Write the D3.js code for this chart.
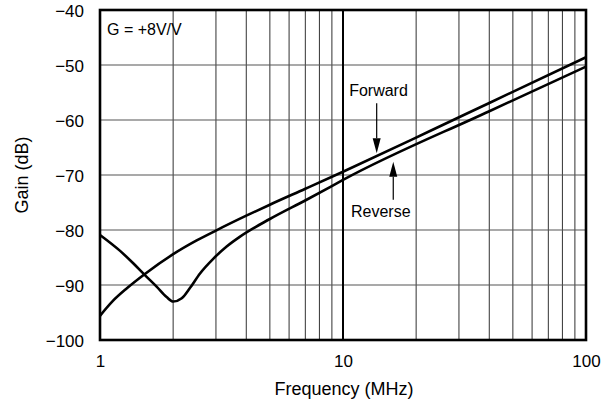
<!DOCTYPE html>
<html>
<head>
<meta charset="utf-8">
<script src="https://cdn.jsdelivr.net/npm/d3@7"></script>
<style>
  html, body { margin: 0; padding: 0; background: #fff; }
  svg { display: block; font-family: "Liberation Sans", Arial, sans-serif; }
</style>
</head>
<body>
<svg id="chart" width="610" height="409"></svg>
<script>
// ---- data ----
const forwardFreq = [1, 1.13, 1.29, 1.53, 2, 2.5, 3, 4, 5, 7, 10, 22.8, 40, 100];
const forwardGain = [-95.6, -92.9, -90.6, -88.0, -84.4, -81.9, -80.1, -77.4, -75.4, -72.5, -69.4, -62.0, -56.9, -48.6];

const reverseFreq = [1, 1.21, 1.37, 1.53, 1.71, 1.88, 2.0, 2.17, 2.34, 2.58, 2.93, 3.32, 3.77, 5, 7.08, 8.84, 10, 40, 100];
const reverseGain = [-80.9, -83.8, -86.05, -88.2, -90.3, -92.2, -93.0, -92.4, -90.6, -87.9, -85.2, -83.0, -81.2, -78.0, -74.5, -72.2, -70.9, -58.4, -50.3];

const xTickValues = [1, 10, 100];
const xTickLabels = ["1", "10", "100"];
const yTickValues = [-40, -50, -60, -70, -80, -90, -100];
const yTickLabels = ["\u221240", "\u221250", "\u221260", "\u221270", "\u221280", "\u221290", "\u2212100"];
const xGridValues = [2, 3, 4, 5, 6, 7, 8, 9, 20, 30, 40, 50, 60, 70, 80, 90];
const yGridValues = [-50, -60, -70, -80, -90];

const annotations = [
  { text: "Forward", textF: 14.0, textG: -55.6, arrowF: 13.76, fromG: -56.96, toG: -66.06 },
  { text: "Reverse", textF: 14.3, textG: -77.6, arrowF: 16.1, fromG: -74.5, toG: -67.6 }
];
const gainNote = "G = +8V/V";
const xTitle = "Frequency (MHz)";
const yTitle = "Gain (dB)";

// ---- layout ----
const L = 100, R = 586, T = 10, B = 340;
const svg = d3.select("#chart");
const x = d3.scaleLog().domain([1, 100]).range([L, R]);
const y = d3.scaleLinear().domain([-100, -40]).range([B, T]);

// grid
const g = svg.append("g");
g.selectAll("line.vg").data(xGridValues).enter().append("line")
  .attr("x1", d => x(d)).attr("x2", d => x(d)).attr("y1", T).attr("y2", B)
  .attr("stroke", "#444").attr("stroke-width", 1.1);
g.selectAll("line.hg").data(yGridValues).enter().append("line")
  .attr("x1", L).attr("x2", R).attr("y1", d => y(d)).attr("y2", d => y(d))
  .attr("stroke", "#555").attr("stroke-width", 1.2);
// 10 MHz line
g.append("line").attr("x1", x(10)).attr("x2", x(10)).attr("y1", T).attr("y2", B)
  .attr("stroke", "#000").attr("stroke-width", 2);

// curves
const line = d3.line().x(d => x(d[0])).y(d => y(d[1])).curve(d3.curveMonotoneX);
const fwd = forwardFreq.map((f, i) => [f, forwardGain[i]]);
const rev = reverseFreq.map((f, i) => [f, reverseGain[i]]);
[fwd, rev].forEach(data => {
  svg.append("path").datum(data).attr("d", line)
    .attr("fill", "none").attr("stroke", "#000").attr("stroke-width", 2.6)
    .attr("stroke-linejoin", "round");
});

// frame
svg.append("rect").attr("x", L).attr("y", T).attr("width", R - L).attr("height", B - T)
  .attr("fill", "none").attr("stroke", "#000").attr("stroke-width", 2.6);

// axes labels
const yAxis = d3.axisLeft(y).tickValues(yTickValues).tickSize(0).tickPadding(16)
  .tickFormat((d, i) => yTickLabels[i]);
const ya = svg.append("g").attr("transform", `translate(${L},0)`).call(yAxis);
ya.select(".domain").remove();
ya.selectAll("text").attr("font-size", 17).attr("fill", "#000")
  .attr("font-family", "Liberation Sans, Arial, sans-serif").attr("dy", "0.4em");

const xAxis = d3.axisBottom(x).tickValues(xTickValues).tickSize(0).tickPadding(15)
  .tickFormat((d, i) => xTickLabels[i]);
const xa = svg.append("g").attr("transform", `translate(0,${B})`).call(xAxis);
xa.select(".domain").remove();
xa.selectAll("text").attr("font-size", 17).attr("fill", "#000")
  .attr("font-family", "Liberation Sans, Arial, sans-serif").attr("dy", "0.71em");

svg.append("text").attr("x", 344).attr("y", 395).attr("text-anchor", "middle")
  .attr("font-size", 18).attr("fill", "#000").text(xTitle);
svg.append("text").attr("transform", `translate(28,${(T + B) / 2}) rotate(-90)`)
  .attr("text-anchor", "middle").attr("font-size", 18).attr("fill", "#000").text(yTitle);

svg.append("text").attr("x", 107).attr("y", 35).attr("font-size", 16).attr("fill", "#000").text(gainNote);

// annotations
annotations.forEach(a => {
  svg.append("text").attr("x", x(a.textF)).attr("y", y(a.textG)).attr("text-anchor", "middle")
    .attr("font-size", 16).attr("fill", "#000").text(a.text);
  const ax = x(a.arrowF), y0 = y(a.fromG), y1 = y(a.toG);
  const dir = Math.sign(y1 - y0);
  const headLen = 15, headW = 4;
  svg.append("line").attr("x1", ax).attr("x2", ax).attr("y1", y0).attr("y2", y1 - dir * headLen)
    .attr("stroke", "#000").attr("stroke-width", 1.2);
  svg.append("path")
    .attr("d", `M${ax},${y1} L${ax - headW},${y1 - dir * headLen} L${ax + headW},${y1 - dir * headLen} Z`)
    .attr("fill", "#000");
});
</script>
</body>
</html>
